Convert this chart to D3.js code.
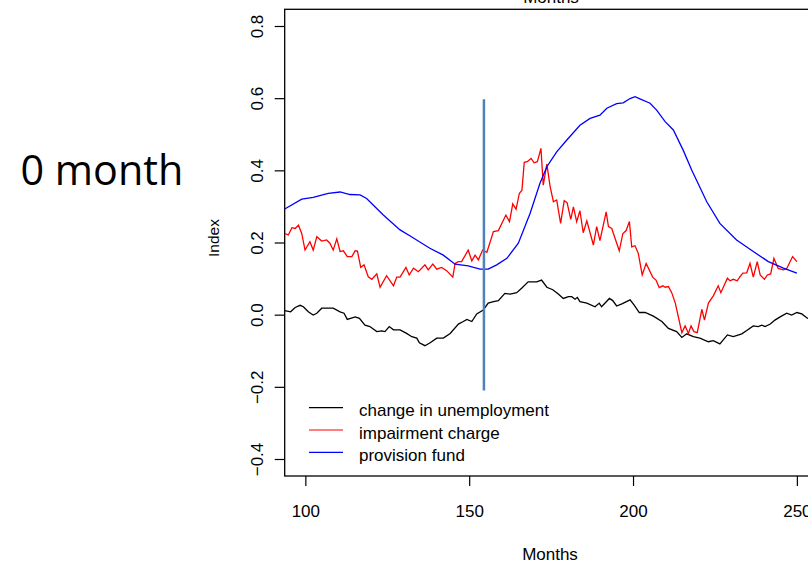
<!DOCTYPE html>
<html>
<head>
<meta charset="utf-8">
<script src="https://cdn.jsdelivr.net/npm/d3@7"></script>
<style>
  body { margin: 0; background: #fff; overflow: hidden; }
  svg text { font-family: "Liberation Sans", Arial, sans-serif; fill: #000; }
</style>
</head>
<body>
<div class="container"></div>
<script>
// values: [month, index]
var unemployment = [[93.7,0.011],[95.5,0.008],[96.9,0.02],[98.4,0.026],[99.4,0.022],[100.9,0.008],[102.4,-0.001],[103.5,0.004],[105,0.018],[108.5,0.018],[110.6,0.008],[111.8,0.004],[112.8,-0.013],[115.2,-0.006],[116.5,-0.01],[118.2,-0.029],[119.7,-0.033],[121.8,-0.047],[123.3,-0.045],[124.3,-0.047],[125.6,-0.033],[126.9,-0.042],[128.9,-0.042],[130.9,-0.052],[132.5,-0.061],[134,-0.065],[134.8,-0.078],[136.5,-0.086],[138.1,-0.078],[140.1,-0.065],[142.1,-0.065],[144.2,-0.052],[146.7,-0.026],[148.2,-0.019],[149.3,-0.013],[150.8,-0.019],[152.3,0.002],[154.3,0.013],[155.8,0.032],[157.4,0.036],[158.9,0.039],[160.9,0.059],[162.5,0.057],[164.5,0.061],[166,0.073],[168,0.091],[170.6,0.091],[172.1,0.096],[173.7,0.076],[175.5,0.069],[177.2,0.057],[178.7,0.045],[180.3,0.05],[181.3,0.05],[182.3,0.043],[183,0.048],[183.8,0.036],[185.9,0.032],[188.4,0.022],[189.7,0.032],[190.4,0.022],[192.8,0.045],[193.8,0.039],[195,0.024],[196.6,0.03],[199.1,0.041],[200.3,0.027],[201.9,0.006],[203.7,0.006],[206.2,-0.004],[208.8,-0.019],[210.8,-0.038],[213.3,-0.047],[214.9,-0.063],[216.4,-0.053],[218.4,-0.061],[220.4,-0.065],[223,-0.075],[224.5,-0.072],[226.5,-0.081],[228.8,-0.056],[230.6,-0.061],[233.2,-0.053],[234.7,-0.044],[236.7,-0.031],[238.2,-0.033],[239.3,-0.029],[240.3,-0.033],[241.9,-0.026],[243.3,-0.015],[244.9,-0.006],[246.9,0.004],[248.4,-0.001],[250,0.006],[251.5,0.002],[253.2,-0.01],[255,-0.014]];

var impairment = [[93.7,0.225],[94.8,0.221],[95.9,0.241],[96.9,0.239],[97.9,0.248],[98.9,0.225],[99.9,0.179],[101.4,0.202],[102.4,0.179],[103.5,0.216],[105,0.204],[106.5,0.207],[107.5,0.198],[108.5,0.179],[109.6,0.21],[110.6,0.175],[111.6,0.177],[112.8,0.161],[114.2,0.161],[115.2,0.177],[115.9,0.176],[116.9,0.131],[117.9,0.138],[119.2,0.105],[120.3,0.098],[121.8,0.113],[122.8,0.076],[124.8,0.108],[126.9,0.08],[127.9,0.104],[128.9,0.104],[130.7,0.131],[131.7,0.11],[133,0.129],[134.5,0.119],[136.5,0.138],[137.5,0.124],[138.9,0.14],[140.1,0.126],[141.6,0.131],[143.1,0.122],[145,0.104],[145.7,0.142],[146.7,0.147],[147.7,0.147],[149.7,0.179],[150.8,0.149],[151.8,0.165],[152.8,0.152],[154.1,0.179],[155.4,0.173],[157.4,0.23],[158.9,0.233],[161.2,0.276],[162.3,0.258],[163.3,0.307],[164.3,0.292],[165.3,0.336],[166.1,0.345],[166.8,0.422],[167.7,0.424],[168.9,0.433],[169.8,0.421],[170.8,0.424],[171.9,0.461],[172.6,0.359],[173.7,0.417],[174.7,0.355],[175.7,0.313],[176.7,0.318],[177.9,0.253],[179,0.316],[179.9,0.31],[181,0.264],[181.8,0.299],[182.8,0.258],[183.8,0.288],[184.8,0.227],[185.9,0.26],[187.9,0.193],[188.9,0.244],[189.9,0.205],[191.8,0.285],[192.5,0.244],[193.5,0.239],[195.8,0.177],[196.9,0.225],[197.9,0.233],[198.9,0.258],[199.6,0.188],[200.6,0.191],[201.6,0.17],[202.8,0.11],[204,0.142],[206,0.104],[207,0.096],[208,0.075],[209.1,0.08],[209.8,0.076],[210.8,0.078],[211.8,0.061],[212.9,0.032],[214.9,-0.05],[215.9,-0.031],[216.9,-0.052],[217.7,-0.031],[218.6,-0.047],[219.6,-0.05],[221,0.015],[221.8,-0.015],[223,0.032],[224.5,0.052],[226,0.08],[226.8,0.061],[228.8,0.101],[229.6,0.094],[230.6,0.098],[231.8,0.094],[232.6,0.105],[233.5,0.115],[234.7,0.116],[235.7,0.142],[236.7,0.104],[237.9,0.147],[238.8,0.11],[240.1,0.098],[241,0.11],[242,0.113],[243,0.156],[244.3,0.128],[245.9,0.124],[246.9,0.128],[248.7,0.161],[250,0.147]];

var provision = [[93.7,0.293],[98.9,0.32],[102.4,0.325],[107,0.336],[110.6,0.34],[113.6,0.333],[116.7,0.332],[118.7,0.322],[123.8,0.276],[128.9,0.235],[132,0.218],[138,0.184],[142.1,0.165],[145.7,0.14],[149.7,0.135],[153.3,0.126],[155.8,0.126],[158.4,0.138],[161.5,0.156],[165,0.198],[168.6,0.281],[171.6,0.364],[173.7,0.41],[176.7,0.451],[179.8,0.484],[183.8,0.525],[186.9,0.544],[189.9,0.553],[192,0.572],[195,0.585],[197,0.587],[199.1,0.599],[200.6,0.604],[202.1,0.598],[205.2,0.586],[207.2,0.567],[209.8,0.535],[212.3,0.512],[215.3,0.456],[217.9,0.401],[222.5,0.313],[226.5,0.253],[231.6,0.207],[236.7,0.175],[241.3,0.147],[245.9,0.129],[250,0.115]];

var marker = [[154.5,0.597],[154.5,-0.21]];

var xTicks = [100, 150, 200, 250];
var yTicks = [-0.4, -0.2, 0.0, 0.2, 0.4, 0.6, 0.8];
var seriesNames = ['change in unemployment', 'impairment charge', 'provision fund'];
var seriesColors = ['black', 'red', 'blue'];

const WIDTH = 808;
const HEIGHT = 563;
const LEFT = 284.7, RIGHT = 818.5, TOP = 9.3, BOTTOM = 476;
const FONT = 17;

var svg = d3.select('.container').append('svg')
    .attr('width', WIDTH)
    .attr('height', HEIGHT);

// scales
var xScale = d3.scaleLinear()
    .domain([93.7, 256.6])
    .range([LEFT, RIGHT]);

var yScale = d3.scaleLinear()
    .domain([-0.4, 0.8])
    .range([459, 26]);

svg.append('clipPath').attr('id', 'plotclip')
    .append('rect')
    .attr('x', LEFT).attr('y', TOP)
    .attr('width', RIGHT - LEFT).attr('height', BOTTOM - TOP);

// box
svg.append('rect')
    .attr('x', LEFT).attr('y', TOP)
    .attr('width', RIGHT - LEFT).attr('height', BOTTOM - TOP)
    .attr('fill', 'none').attr('stroke', 'black').attr('stroke-width', 1.3);

// axes
var xAxis = d3.axisBottom(xScale).tickValues(xTicks).tickSize(10).tickPadding(19)
    .tickFormat(d3.format('d'));
var gx = svg.append('g')
    .attr('transform', 'translate(0,' + BOTTOM + ')')
    .call(xAxis);
gx.select('.domain').remove();
gx.selectAll('line').attr('stroke-width', 1.2);
gx.selectAll('text').attr('font-size', FONT);

var yAxis = d3.axisLeft(yScale).tickValues(yTicks).tickSize(10)
    .tickFormat(d3.format('.1f'));
var gy = svg.append('g')
    .attr('transform', 'translate(' + LEFT + ',0)')
    .call(yAxis);
gy.select('.domain').remove();
gy.selectAll('line').attr('stroke-width', 1.2);
gy.selectAll('text')
    .attr('font-size', FONT)
    .attr('x', null).attr('dy', null)
    .attr('text-anchor', 'middle')
    .attr('transform', 'translate(-22,0) rotate(-90)');

// axis titles
svg.append('text')
    .attr('x', 550).attr('y', 560)
    .attr('text-anchor', 'middle').attr('font-size', FONT)
    .text('Months');

svg.append('text')
    .attr('x', 551).attr('y', 2.7)
    .attr('text-anchor', 'middle').attr('font-size', FONT)
    .text('Months');

svg.append('text')
    .attr('transform', 'translate(219,238) rotate(-90)')
    .attr('text-anchor', 'middle').attr('font-size', 15.5)
    .text('Index');

// lines
var line = d3.line()
    .x(function(d){ return xScale(d[0]); })
    .y(function(d){ return yScale(d[1]); });

var plot = svg.append('g').attr('clip-path', 'url(#plotclip)');

[unemployment, impairment, provision].forEach(function(s, i){
    plot.append('path')
        .attr('d', line(s))
        .attr('fill', 'none')
        .attr('stroke', seriesColors[i])
        .attr('stroke-width', 1.3);
});

plot.append('path')
    .attr('d', line(marker))
    .attr('stroke', '#4f81bd')
    .attr('stroke-width', 2.5);

// legend
var legend = svg.append('g');
seriesNames.forEach(function(name, i){
    var y = 407.7 + i * 22.3;
    legend.append('line')
        .attr('x1', 309).attr('x2', 343)
        .attr('y1', y).attr('y2', y)
        .attr('stroke', seriesColors[i]).attr('stroke-width', 1.2);
    legend.append('text')
        .attr('x', 359).attr('y', y + 8.5)
        .attr('font-size', FONT)
        .text(name);
});

// slide caption
svg.append('text')
    .attr('x', 20.5).attr('y', 185)
    .style('font-family', '"Open Sans", "Noto Sans", sans-serif')
    .attr('font-size', 41.3)
    .text('0 month');
</script>
</body>
</html>
